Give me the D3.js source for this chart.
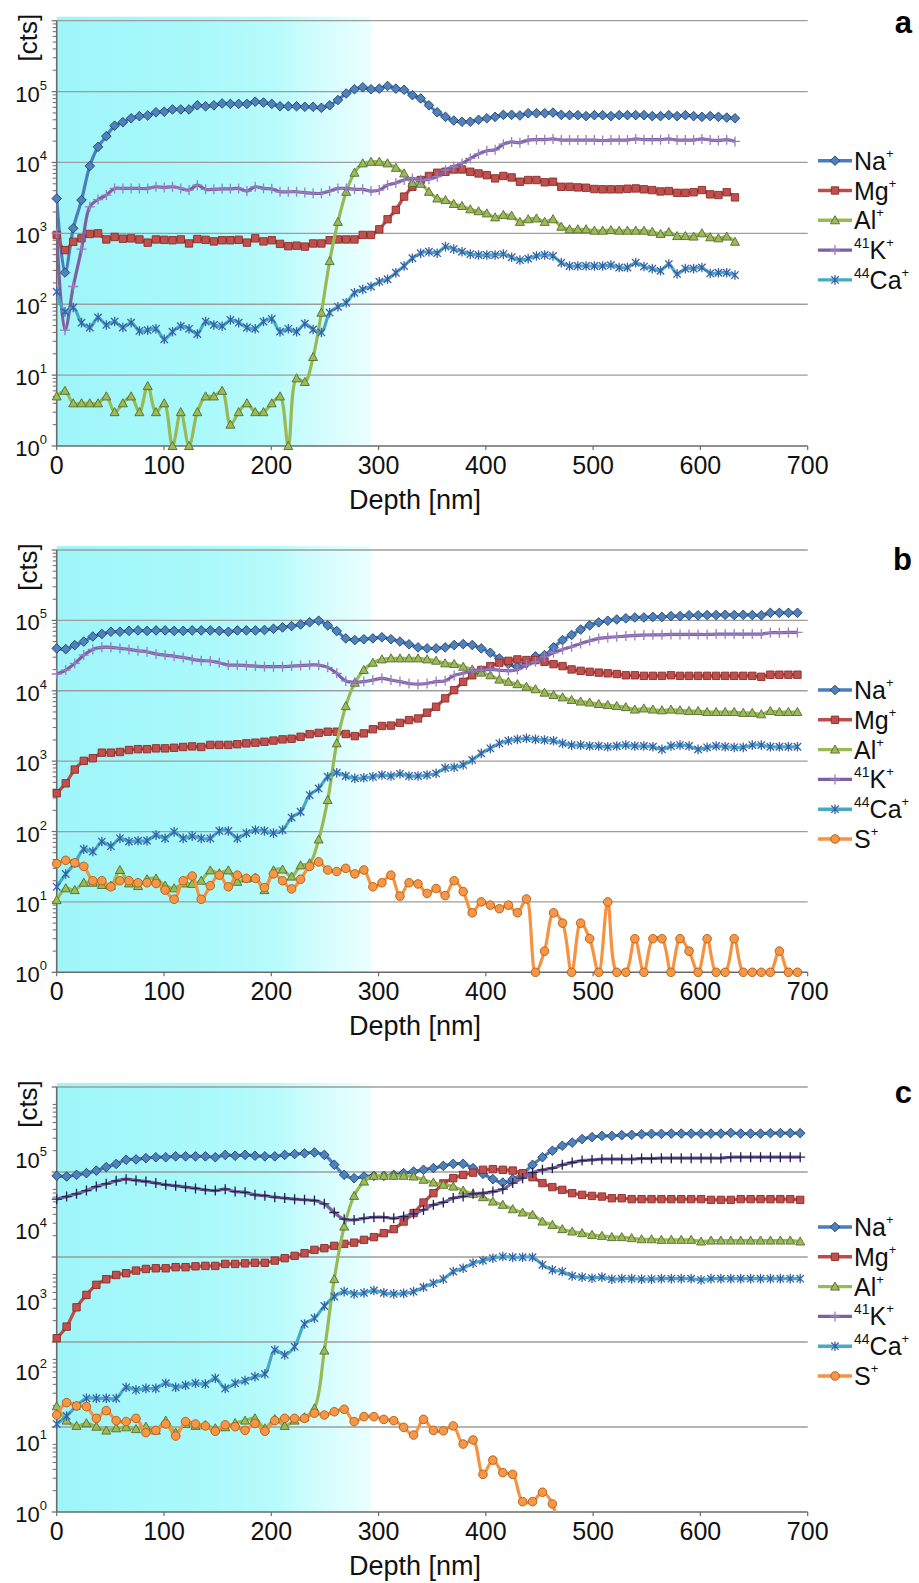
<!DOCTYPE html>
<html>
<head>
<meta charset="utf-8">
<script src="https://cdn.jsdelivr.net/npm/d3@7"></script>
<style>
  body { margin: 0; background: #fff; }
  svg { display: block; font-family: 'Liberation Sans', Arial, sans-serif; }
</style>
</head>
<body>
<svg id="chart" width="919" height="1583"></svg>
<script>
// ---- data -------------------------------------------------------------
const ions = ['Na', 'Mg', 'Al', 'K', 'Ca', 'S']
const isotopes = ['', '', '', '41', '44', '']
const xTicks = [0, 100, 200, 300, 400, 500, 600, 700]
const yDecades = [0, 1, 2, 3, 4, 5]
const shadeEnd = 293 // nm

// sampling step of the depth grid (nm) for each panel
const stepA = 7.71
const stepB = 8.42
const stepC = 9.24

// panel a
const naA = [3100, 280, 1180, 2950, 8900, 16600, 23500, 33000, 37000, 42000,
  45000, 46000, 51000, 52000, 56000, 56000, 56000, 64000, 62000, 64000,
  68000, 67000, 67000, 67000, 72000, 70000, 67000, 62000, 62000, 62000,
  61000, 61000, 59000, 64000, 76000, 94000, 108000, 115000, 108000, 110000,
  120000, 110000, 106000, 89000, 80000, 64000, 51000, 44000, 39000, 37500,
  37500, 40000, 42000, 44000, 47000, 47000, 46000, 49500, 49500, 49500,
  50500, 47000, 46500, 46500, 45100, 46500, 46500, 45100, 46500, 46500,
  46500, 46500, 45100, 45100, 46500, 45100, 46500, 45100, 44000, 45100,
  44000, 43000, 42000]
const mgA = [950, 580, 760, 850, 980, 1000, 820, 890, 840, 850,
  820, 740, 820, 810, 800, 820, 720, 830, 810, 770,
  800, 800, 810, 740, 850, 770, 800, 710, 660, 670,
  650, 720, 720, 800, 820, 820, 820, 950, 950, 1140,
  1580, 2140, 3300, 4540, 5650, 6450, 7160, 7400, 7960, 7960,
  7400, 7000, 6620, 5960, 6450, 6150, 5350, 5650, 5650, 5250,
  5350, 4540, 4540, 4450, 4400, 4220, 4180, 4180, 4180, 4260,
  4300, 4180, 4080, 3900, 3950, 3730, 3730, 3800, 4080, 3550,
  3470, 3800, 3220]
const alA = [5, 6, 4, 4, 4, 4, 5, 3, 4, 5,
  3, 7, 3, 4, 1, 3, 1, 3, 5, 5,
  6, 2, 3, 4, 3, 3, 4, 5, 1, 9,
  8, 18, 76, 406, 1450, 3850, 7160, 9700, 10200, 10200,
  9700, 8400, 7000, 5150, 5000, 3850, 3100, 2950, 2600, 2430,
  2180, 2050, 1910, 1680, 1820, 1770, 1450, 1580, 1620, 1450,
  1580, 1240, 1140, 1140, 1140, 1090, 1090, 1110, 1090, 1090,
  1090, 1090, 1050, 980, 1040, 915, 915, 900, 1000, 880,
  850, 900, 760]
const kA = [1000, 43, 178, 600, 2370, 3000, 3470, 4300, 4300, 4300,
  4300, 4300, 4540, 4420, 4540, 4300, 4080, 4790, 4180, 4180,
  4250, 4250, 4300, 3950, 4540, 4300, 4250, 3860, 3860, 3860,
  3760, 3670, 3670, 3950, 4300, 4300, 4180, 4180, 3950, 4080,
  4800, 5140, 5650, 5960, 5650, 5800, 6300, 7800, 8700, 9700,
  11400, 13200, 14600, 15100, 18100, 19500, 19000, 20700, 21000, 21000,
  21500, 20700, 20700, 20700, 20700, 20700, 20400, 20700, 20700, 20700,
  21500, 21000, 21000, 21000, 21500, 20700, 20700, 20700, 21500, 20700,
  20400, 21000, 19800]
const caA = [150, 78, 90, 55, 47, 65, 51, 57, 47, 55,
  42, 43, 45, 32, 41, 49, 45, 38, 57, 51,
  49, 60, 55, 47, 45, 57, 62, 41, 45, 41,
  53, 44, 40, 76, 92, 105, 145, 162, 178, 208,
  225, 278, 346, 445, 525, 550, 525, 650, 600, 550,
  510, 495, 495, 495, 510, 460, 420, 440, 480, 495,
  480, 385, 346, 346, 346, 346, 346, 356, 330, 330,
  385, 340, 318, 297, 369, 268, 318, 318, 330, 272,
  278, 278, 258]

// panel b
const naB = [40000, 39000, 44500, 50000, 59000, 64000, 69000, 69000, 71000, 72000,
  71000, 72000, 72000, 71000, 71000, 72000, 72000, 72000, 71000, 69000,
  72000, 72000, 72000, 73000, 76000, 79500, 83000, 87500, 94000, 99000,
  85000, 70500, 55500, 52500, 54000, 55500, 57500, 54000, 50000, 45700,
  41300, 40000, 40000, 41300, 44600, 46000, 44600, 40000, 34700, 28800,
  24000, 21900, 24500, 30800, 32100, 41400, 52500, 62000, 74000, 85000,
  93600, 98800, 103000, 107000, 110000, 110000, 112000, 112000, 115000, 115000,
  118000, 118000, 119000, 119000, 120000, 119000, 120000, 119000, 118000, 128000,
  128000, 128000, 128000]
const mgB = [350, 484, 760, 1010, 1100, 1320, 1320, 1350, 1440, 1480,
  1480, 1520, 1520, 1550, 1590, 1620, 1590, 1700, 1700, 1700,
  1740, 1790, 1830, 1885, 1960, 2040, 2080, 2220, 2420, 2520,
  2620, 2620, 2430, 2270, 2480, 2840, 3160, 3200, 3500, 3830,
  4040, 4880, 5930, 7800, 10200, 13400, 16600, 19700, 22400, 25000,
  26600, 27900, 27300, 27300, 25800, 23900, 22400, 20100, 19200, 18600,
  18100, 17700, 17300, 16600, 16600, 16300, 16300, 16300, 16600, 16300,
  16300, 16300, 16300, 16300, 16300, 16300, 16300, 16300, 15800, 16900,
  16900, 16900, 16900]
const alB = [10.6, 15.6, 14.7, 18.7, 18.7, 17.4, 17, 28.4, 18.3, 16.8,
  21, 21.5, 17, 15.6, 18.3, 18, 20, 28, 25.5, 28,
  19.3, 21.5, 22, 14.7, 28, 28.8, 22.9, 33, 35.3, 77,
  280, 1790, 6050, 13000, 19700, 25000, 27900, 28800, 28800, 28800,
  28800, 27900, 26700, 24500, 24000, 21900, 20100, 18100, 16600, 14400,
  13400, 12400, 11400, 10500, 9400, 8700, 8050, 7400, 7020, 6800,
  6480, 6280, 6080, 5850, 5400, 5600, 5400, 5270, 5400, 5270,
  5150, 5150, 4990, 4990, 4990, 4990, 4840, 4840, 4630, 5150,
  4990, 4990, 4990]
const kB = [17300, 19700, 24500, 32100, 38700, 41400, 41400, 40000, 38700, 37000,
  35800, 33400, 32100, 31000, 29700, 27900, 26800, 26500, 25000, 23200,
  23200, 22800, 22400, 22000, 22000, 22000, 22400, 22800, 23200, 23200,
  21500, 17700, 13800, 13200, 13500, 14200, 15000, 14200, 13500, 12700,
  12400, 12700, 13500, 13900, 16500, 17700, 19200, 19700, 20100, 19700,
  19200, 20100, 23200, 25800, 30400, 34700, 38700, 42200, 46900, 51300,
  55500, 57300, 58500, 59800, 61100, 61800, 62400, 62400, 63100, 63100,
  63100, 63100, 63100, 63800, 63800, 63800, 63800, 63800, 63800, 66700,
  66700, 67400, 67400]
const caB = [16.4, 24.9, 35.4, 56, 52, 72, 62, 80, 72, 74,
  74, 89, 80, 99, 80, 86, 80, 80, 102, 102,
  80, 95, 105, 102, 95, 105, 158, 191, 330, 410,
  600, 685, 615, 570, 580, 600, 635, 615, 660, 615,
  615, 635, 670, 800, 818, 884, 1040, 1290, 1520, 1790,
  1950, 2040, 2110, 2040, 1995, 1950, 1790, 1690, 1690, 1640,
  1640, 1600, 1640, 1690, 1640, 1640, 1600, 1470, 1640, 1690,
  1640, 1470, 1570, 1640, 1600, 1570, 1570, 1690, 1690, 1600,
  1600, 1600, 1600]
const sB = [35, 39, 36, 32, 20, 20, 16.4, 20, 20, 18.7,
  18.7, 18.3, 14.7, 10.9, 20, 23.3, 10.9, 17, 24, 16.4,
  24, 21.6, 21.6, 16, 25, 20, 15.3, 21, 32, 37,
  28.4, 27, 30, 25, 28.4, 16.4, 18.7, 24, 12.1, 18.7,
  18, 13.2, 15.5, 12.3, 20, 14, 7, 10, 9, 8,
  9, 7, 11, 1, 2, 7, 5, 1, 5, 3,
  1, 10, 1, 1, 3, 1, 3, 3, 1, 3,
  2, 1, 3, 1, 1, 3, 1, 1, 1, 1,
  2, 1, 1]

// panel c
const naC = [55700, 54500, 57500, 60800, 66000, 74000, 82000, 94000, 95000, 99000,
  102000, 102000, 105000, 105000, 105000, 105000, 102000, 110000, 107000, 110000,
  107000, 105000, 105000, 110000, 113000, 116000, 119000, 110000, 80000, 57500,
  51600, 54500, 55700, 55700, 57500, 60800, 64000, 67800, 71600, 77000,
  82200, 82200, 71500, 59400, 50000, 44800, 50000, 59400, 79600, 102000,
  126000, 148000, 164000, 184000, 196000, 204000, 204000, 209000, 211000, 216000,
  218000, 218000, 220000, 220000, 220000, 220000, 220000, 220000, 225000, 220000,
  220000, 220000, 223000, 223000, 223000, 223000]
const mgC = [284, 414, 776, 1160, 1610, 1930, 2220, 2350, 2560, 2700,
  2760, 2760, 2860, 2860, 2940, 2980, 2980, 3180, 3180, 3240,
  3300, 3300, 3540, 3830, 4130, 4510, 5020, 5300, 5720, 6100,
  6350, 6950, 7590, 8630, 9840, 12600, 16600, 23400, 31700, 43500,
  51600, 57500, 61800, 67800, 69200, 67800, 66100, 60500, 53300, 44000,
  38600, 35300, 31700, 30000, 29000, 28400, 26900, 26900, 26100, 26100,
  26100, 26100, 26100, 26100, 26100, 26100, 25500, 25500, 25500, 26100,
  26100, 26100, 26100, 26100, 26100, 25500]
const alC = [31, 19.5, 16.4, 17.9, 16, 14.1, 15.2, 15.7, 14.8, 16,
  14.1, 19.5, 13.2, 17.5, 16.4, 16.8, 15.2, 15.7, 18, 19.5,
  21, 15.2, 20.5, 16.4, 19.5, 21.7, 29, 190, 1940, 10700,
  29000, 46200, 55700, 55700, 55700, 55700, 54500, 49000, 44800, 41600,
  39300, 34500, 31000, 27800, 24100, 21700, 18800, 16900, 15700, 12600,
  11300, 9840, 9120, 8630, 8170, 7910, 7590, 7590, 7340, 7090,
  7090, 6950, 6950, 6950, 6950, 6580, 6790, 6790, 6790, 6790,
  6790, 6790, 6790, 6790, 6790, 6580]
const kC = [26100, 28400, 31000, 34500, 39300, 43000, 47300, 50000, 48000, 46300,
  44000, 41700, 40300, 38600, 37000, 35300, 34500, 36100, 33400, 32600,
  30000, 29200, 27800, 27000, 26100, 25500, 25000, 22400, 16900, 13600,
  13300, 14000, 14500, 14500, 14000, 14800, 16200, 18400, 21700, 23500,
  27000, 28400, 31000, 31700, 33400, 36100, 44000, 51600, 61800, 67800,
  71500, 79600, 85900, 91400, 93400, 95600, 95600, 95600, 95600, 97800,
  97800, 98900, 98900, 98900, 98900, 98900, 98900, 98900, 102000, 102000,
  102000, 102000, 102000, 102000, 102000, 102000]
const caC = [17.5, 22.7, 31.4, 40.3, 40.3, 40.3, 40.3, 57.6, 52.9, 55.6,
  55.6, 65.8, 57.6, 61.6, 65.8, 64, 77.3, 55.6, 65.8, 71.6,
  81.5, 89, 194, 165, 216, 452, 545, 810, 1100, 1290,
  1200, 1240, 1340, 1240, 1200, 1220, 1290, 1490, 1700, 1940,
  2480, 2760, 3260, 3550, 3830, 4040, 3950, 3950, 3950, 3090,
  2620, 2480, 2150, 2070, 2000, 2070, 1940, 1970, 1970, 1940,
  1940, 1970, 1970, 1970, 1970, 1890, 1970, 1970, 1970, 1970,
  1970, 1970, 1970, 1970, 1970, 1970]
const sC = [23.4, 35, 31.4, 30.7, 21, 27, 19.5, 18.9, 21, 13.2,
  14.2, 17.5, 11.8, 18.9, 17.5, 16.4, 13.8, 17, 16, 14.2,
  17.8, 13.8, 19.5, 21, 21, 21, 24.8, 23.4, 26, 28.2,
  18.9, 22.2, 22.2, 20.3, 19.5, 15.7, 12.2, 20.3, 14.2, 14,
  16.4, 9.1, 10.4, 3.4, 5.4, 3.6, 3.4, 1.4, 1.4, 1.9,
  1.3, 0.3]

// ---- layout / style ---------------------------------------------------
const X0 = 56.7
const X1 = 807.7

const panels = [
  { id: 'a', top: 20.7, bottom: 446, step: stepA, grid: 'decade', letterY: 33,
    series: [naA, mgA, alA, kA, caA], kMark: '#9a7dc3' },
  { id: 'b', top: 550, bottom: 972.3, step: stepB, grid: 'decade', letterY: 570,
    series: [naB, mgB, alB, kB, caB, sB], kMark: '#9a7dc3' },
  { id: 'c', top: 1087, bottom: 1512, step: stepC, grid: 'fifth', letterY: 1103,
    series: [naC, mgC, alC, kC, caC, sC], kMark: '#22224e' },
]

const styles = [
  { line: '#4a7ebb', fill: '#4f81bd', stroke: '#233f66', mark: 'diamond' },
  { line: '#be4b48', fill: '#c0504d', stroke: '#8a2c29', mark: 'square' },
  { line: '#98b954', fill: '#9bbb59', stroke: '#566c2c', mark: 'triangle' },
  { line: '#7d60a0', fill: 'none', stroke: '#9a7dc3', mark: 'plus' },
  { line: '#46aac5', fill: 'none', stroke: '#3a5fa8', mark: 'star' },
  { line: '#f69240', fill: '#f79646', stroke: '#b05d14', mark: 'circle' },
]

const markPath = {
  diamond: 'M0,-4.8L4.8,0L0,4.8L-4.8,0Z',
  square: 'M-3.7,-3.7H3.7V3.7H-3.7Z',
  triangle: 'M0,-4.6L4.5,3.5H-4.5Z',
  plus: 'M-5,0H5M0,-5V5',
  star: 'M-3.7,-3.7L3.7,3.7M-3.7,3.7L3.7,-3.7M0,-4.8V4.8',
  circle: 'M4.3,0A4.3,4.3 0 1 1 -4.3,0A4.3,4.3 0 1 1 4.3,0Z',
}

const svg = d3.select('#chart')
const defs = svg.append('defs')

const grad = defs.append('linearGradient').attr('id', 'shade')
  .attr('x1', 0).attr('x2', 1).attr('y1', 0).attr('y2', 0)
;[[0, '#9ff5f8'], [0.45, '#a9f9fb'], [0.7, '#b8fbfc'], [0.84, '#d4fdfe'], [1, '#ebffff']]
  .forEach(([o, c]) => grad.append('stop').attr('offset', o).attr('stop-color', c))

const x = d3.scaleLinear().domain([0, 700]).range([X0, X1])

panels.forEach(p => {
  const y = d3.scaleLog().domain([1, 1e6]).range([p.bottom, p.top])
  const g = svg.append('g').attr('class', 'panel-' + p.id)

  defs.append('clipPath').attr('id', 'clip-' + p.id)
    .append('rect')
    .attr('x', X0).attr('y', p.top - 2)
    .attr('width', X1 - X0).attr('height', p.bottom - p.top + 2)

  // shaded layer
  g.append('rect')
    .attr('x', x(0)).attr('y', p.top - 4)
    .attr('width', x(shadeEnd) - x(0)).attr('height', p.bottom - p.top + 4)
    .attr('fill', 'url(#shade)')

  // grid values
  const grid = p.grid === 'decade'
    ? d3.range(7).map(k => Math.pow(10, k))
    : d3.range(6).map(k => Math.pow(10, 1.2 * k))

  g.selectAll('.grid').data(grid.slice(1)).enter().append('line')
    .attr('x1', X0).attr('x2', X1)
    .attr('y1', d => y(d)).attr('y2', d => y(d))
    .attr('stroke', '#9d9d9d').attr('stroke-width', 1.3)

  // minor ticks
  const minor = []
  for (let i = 0; i < grid.length - 1; i++) {
    for (let m = 2; m <= 9; m++) {
      if (grid[i] * m < grid[i + 1]) minor.push(grid[i] * m)
    }
  }
  g.selectAll('.minor').data(minor).enter().append('line')
    .attr('x1', X0 - 4).attr('x2', X0)
    .attr('y1', d => y(d)).attr('y2', d => y(d))
    .attr('stroke', '#6a6a6a').attr('stroke-width', 1)
  g.selectAll('.major').data(grid).enter().append('line')
    .attr('x1', X0 - 5).attr('x2', X0)
    .attr('y1', d => y(d)).attr('y2', d => y(d))
    .attr('stroke', '#6a6a6a').attr('stroke-width', 1.2)

  // axes
  g.append('line').attr('x1', X0).attr('x2', X0).attr('y1', p.top).attr('y2', p.bottom)
    .attr('stroke', '#6a6a6a').attr('stroke-width', 1.6)
  g.append('line').attr('x1', X0).attr('x2', X1).attr('y1', p.bottom).attr('y2', p.bottom)
    .attr('stroke', '#6a6a6a').attr('stroke-width', 1.6)

  g.selectAll('.xtick').data(xTicks).enter().append('line')
    .attr('x1', d => x(d)).attr('x2', d => x(d))
    .attr('y1', p.bottom).attr('y2', p.bottom + 4)
    .attr('stroke', '#6a6a6a').attr('stroke-width', 1.2)

  g.selectAll('.xlab').data(xTicks).enter().append('text')
    .attr('x', d => x(d)).attr('y', p.bottom + 28)
    .attr('text-anchor', 'middle').attr('font-size', 25).attr('fill', '#111')
    .text(d => d)

  yDecades.forEach(k => {
    const t = g.append('text')
      .attr('x', 47).attr('y', y(Math.pow(10, k)) + 10)
      .attr('text-anchor', 'end').attr('font-size', 22).attr('fill', '#111')
    t.append('tspan').text('10')
    t.append('tspan').attr('font-size', 13).attr('dy', -12).text(k)
  })

  g.append('text')
    .attr('transform', `translate(37,${p.top + 17}) rotate(-90)`)
    .attr('text-anchor', 'middle').attr('font-size', 26).attr('fill', '#111')
    .text('[cts]')

  g.append('text')
    .attr('x', 415).attr('y', p.bottom + 63)
    .attr('text-anchor', 'middle').attr('font-size', 27).attr('fill', '#111')
    .text('Depth [nm]')

  g.append('text')
    .attr('x', 912).attr('y', p.letterY)
    .attr('text-anchor', 'end').attr('font-size', 31).attr('font-weight', 'bold')
    .text(p.id)

  // series
  const line = d3.line()
    .x(d => x(d.depth))
    .y(d => y(d.v))
    .curve(d3.curveCatmullRom.alpha(0.5))

  p.series.forEach((vals, si) => {
    const st = styles[si]
    const pts = vals.map((v, i) => ({ depth: i * p.step, v }))
    const sg = g.append('g')
    sg.append('path')
      .attr('d', line(pts))
      .attr('clip-path', `url(#clip-${p.id})`)
      .attr('fill', 'none').attr('stroke', st.line)
      .attr('stroke-width', 3.2).attr('stroke-linejoin', 'round')
    const markColor = si === 3 ? p.kMark : st.stroke
    sg.selectAll('.m').data(pts.filter(d => d.v >= 1)).enter().append('path')
      .attr('transform', d => `translate(${x(d.depth)},${y(d.v)})`)
      .attr('d', markPath[st.mark])
      .attr('fill', st.fill)
      .attr('stroke', markColor)
      .attr('stroke-width', st.fill === 'none' ? 1.3 : 0.9)
  })

  // legend
  const lg = g.append('g')
  p.series.forEach((vals, si) => {
    const st = styles[si]
    const ly = p.top + 140 + si * 29.8
    lg.append('line').attr('x1', 818).attr('x2', 852).attr('y1', ly).attr('y2', ly)
      .attr('stroke', st.line).attr('stroke-width', 3.4)
    lg.append('path').attr('transform', `translate(835,${ly})`)
      .attr('d', markPath[st.mark]).attr('fill', st.fill)
      .attr('stroke', st.stroke).attr('stroke-width', st.fill === 'none' ? 1.3 : 0.9)
    const t = lg.append('text').attr('x', 854).attr('y', ly + 9)
      .attr('font-size', 25).attr('fill', '#111')
    if (isotopes[si]) {
      t.append('tspan').attr('font-size', 14).attr('dy', -11).text(isotopes[si])
      t.append('tspan').attr('dy', 11).text(ions[si])
    } else {
      t.append('tspan').text(ions[si])
    }
    t.append('tspan').attr('font-size', 13).attr('dy', -12).text('+')
  })
})
</script>
</body>
</html>
